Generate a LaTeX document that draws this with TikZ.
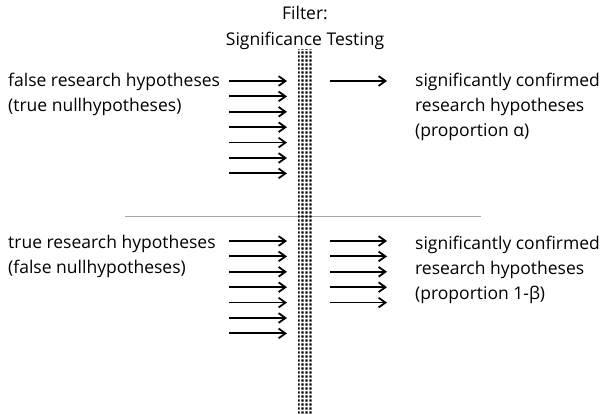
\documentclass[tikz,border=0pt]{standalone}
\usepackage{fontspec}
\setmainfont{Open Sans}
\usetikzlibrary{arrows.meta,positioning,patterns.meta}
\tikzdeclarepattern{
  name=filtergrid,
  type=uncolored,
  bottom left={(0pt,0pt)},
  top right={(3.5pt,3.5pt)},
  tile size={(3.5pt,3.5pt)},
  code={
    \fill (0.5pt,0.5pt) rectangle (3pt,3pt);
  }
}
\tikzset{
  labeltext/.style={
    anchor=west,
    align=left,
    inner sep=0pt,
    font=\fontsize{17.5}{25}\selectfont
  },
  titletext/.style={
    align=center,
    inner sep=0pt,
    font=\fontsize{17.5}{26}\selectfont
  },
  filterband/.style={
    pattern=filtergrid,
    draw=none,
    minimum width=14pt,
    inner sep=0pt
  },
  passarrow/.style={-{Straight Barb[length=2.4mm,width=3.4mm]},line width=1.8pt},
  divider/.style={draw=gray!70,line width=0.8pt}
}

\begin{document}
\begin{tikzpicture}[x=1pt,y=-1pt]
  \useasboundingbox (0,0) rectangle (606,414);
  % divider between the two cases
  \coordinate (divleft) at (125,216);
  \coordinate (divright) at (481,216);
  \draw[divider] (divleft) -- (divright);
  % the filter
  \node[filterband, minimum height=364pt] (filter) at (305,232) {};
  \node[titletext] (title) at (305,28) {Filter:\\Significance Testing};
  % upper case
  \node[labeltext] (falseres) at (8,94) {false research hypotheses\\(true nullhypotheses)};
  \node[labeltext] (confalpha) at (415,107) {significantly confirmed\\research hypotheses\\(proportion α)};
  \foreach \i in {0,...,6} {
    \coordinate (upin\i) at (229,{81+15.4*\i});
    \coordinate (upend\i) at (287,{81+15.4*\i});
    \draw[passarrow] (upin\i) -- (upend\i);
  }
  \coordinate (upout0) at (330,81);
  \coordinate (upoutend0) at (387,81);
  \draw[passarrow] (upout0) -- (upoutend0);
  % lower case
  \node[labeltext] (trueres) at (8,256) {true research hypotheses\\(false nullhypotheses)};
  \node[labeltext] (confbeta) at (415,270) {significantly confirmed\\research hypotheses\\(proportion 1-β)};
  \foreach \i in {0,...,6} {
    \coordinate (lowin\i) at (229,{241+15.4*\i});
    \coordinate (lowend\i) at (287,{241+15.4*\i});
    \draw[passarrow] (lowin\i) -- (lowend\i);
  }
  \foreach \i in {0,...,4} {
    \coordinate (lowout\i) at (330,{241+15.4*\i});
    \coordinate (lowoutend\i) at (387,{241+15.4*\i});
    \draw[passarrow] (lowout\i) -- (lowoutend\i);
  }
\end{tikzpicture}
\end{document}
